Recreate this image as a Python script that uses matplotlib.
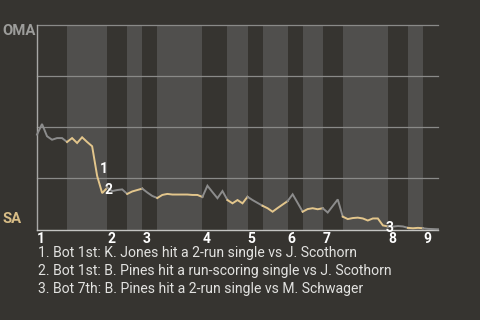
import matplotlib
matplotlib.use("Agg")
import matplotlib.pyplot as plt

# ---- data ----
# win probability for OMA (away team) after each plate appearance
wp = [0.464, 0.516, 0.456, 0.439, 0.447, 0.447, 0.428, 0.447, 0.423, 0.451,
      0.428, 0.407, 0.262, 0.178, 0.204, 0.188, 0.193, 0.196, 0.174, 0.186,
      0.193, 0.200, 0.181, 0.164, 0.154, 0.169, 0.174, 0.171, 0.171, 0.171,
      0.171, 0.169, 0.169, 0.159, 0.214, 0.183, 0.153, 0.188, 0.144, 0.128,
      0.144, 0.128, 0.160, 0.144, 0.130, 0.116, 0.104, 0.087, 0.105, 0.122,
      0.139, 0.172, 0.130, 0.087, 0.100, 0.104, 0.099, 0.104, 0.083, 0.115,
      0.147, 0.063, 0.051, 0.056, 0.058, 0.054, 0.044, 0.054, 0.054, 0.020,
      0.015, 0.014, 0.017, 0.015, 0.008, 0.006, 0.008, 0.006, 0.003, 0.002,
      0.001]
# half-inning boundaries (plate-appearance index)
half_bounds = [0, 6, 14, 18, 21, 24, 33, 38, 42, 45, 50, 53, 57, 61, 70, 74, 77, 80]
inning_labels = ["1", "2", "3", "4", "5", "6", "7", "8", "9"]
key_idx = [12, 13, 69]
key_labels = ["1", "2", "3"]
notes = ["1. Bot 1st: K. Jones hit a 2-run single vs J. Scothorn",
         "2. Bot 1st: B. Pines hit a run-scoring single vs J. Scothorn",
         "3. Bot 7th: B. Pines hit a 2-run single vs M. Schwager"]
team_top = "OMA"
team_bottom = "SA"

# ---- style ----
BG = "#363430"
BAND = "#504f4d"
GRID = "#8a8a88"
GRAY = "#8c8c8c"
TAN = "#e3c68c"
FONT = "Roboto"

fig = plt.figure(figsize=(4.8, 3.2), dpi=100, facecolor=BG)
ax = fig.add_axes([37/480, 1-229.5/320, 401/480, (229.5-25)/320])
ax.set_facecolor(BG)
n = len(wp) - 1
ax.set_xlim(0, n)
ax.set_ylim(0, 1)

# bottom-half bands
for k in range(len(half_bounds) - 1):
    if k % 2 == 1:
        ax.axvspan(half_bounds[k], half_bounds[k+1], color=BAND, lw=0, zorder=0)

for yv in [0.25, 0.5, 0.75, 1.0]:
    ax.axhline(yv, color=GRID, lw=0.9, zorder=1, clip_on=False)

# line colored by batting team
for k in range(len(half_bounds) - 1):
    a, b = half_bounds[k], half_bounds[k+1]
    xs = list(range(a, b + 1))
    ys = wp[a:b + 1]
    ax.plot(xs, ys, color=GRAY if k % 2 == 0 else TAN, lw=1.4, zorder=3,
            solid_joinstyle="miter", clip_on=False)

for idx, lab in zip(key_idx, key_labels):
    off = (2.0, 5.0) if lab != "3" else (2.2, -2.2)
    if lab == "2":
        off = (2.0, 2.5)
    ax.annotate(lab, (idx, wp[idx]), xytext=off, textcoords="offset points",
                ha="left", va="center", color="white", fontsize=10,
                fontweight="bold", family=FONT, zorder=4)

for s in ["top", "right"]:
    ax.spines[s].set_visible(False)
ax.spines["left"].set_color("#a8a8a6")
ax.spines["bottom"].set_color("#c4c4c2")
ax.spines["left"].set_linewidth(1.0)
ax.spines["bottom"].set_linewidth(1.0)

starts = half_bounds[0:-1:2]
ax.set_xticks(starts)
ax.set_xticklabels(inning_labels, ha="left", color="white", fontsize=10,
                   fontweight="bold", family=FONT)
ax.tick_params(axis="x", length=0, pad=1.5)
ax.set_yticks([])

fig.text(2.5/480, 1-31/320, team_top, ha="left", va="center", color="#9c9c9a",
         fontsize=10.7, fontweight="bold", family=FONT)
fig.text(2.5/480, 1-219/320, team_bottom, ha="left", va="center", color="#d8bd86",
         fontsize=10.7, fontweight="bold", family=FONT)

for j, t in enumerate(notes):
    fig.text(37.5/480, 1-(257.3+17.7*j)/320, t, ha="left", va="baseline",
             color="#e2e2e0", fontsize=10.05, family=FONT)

fig.savefig("out.png", dpi=100, facecolor=BG)
